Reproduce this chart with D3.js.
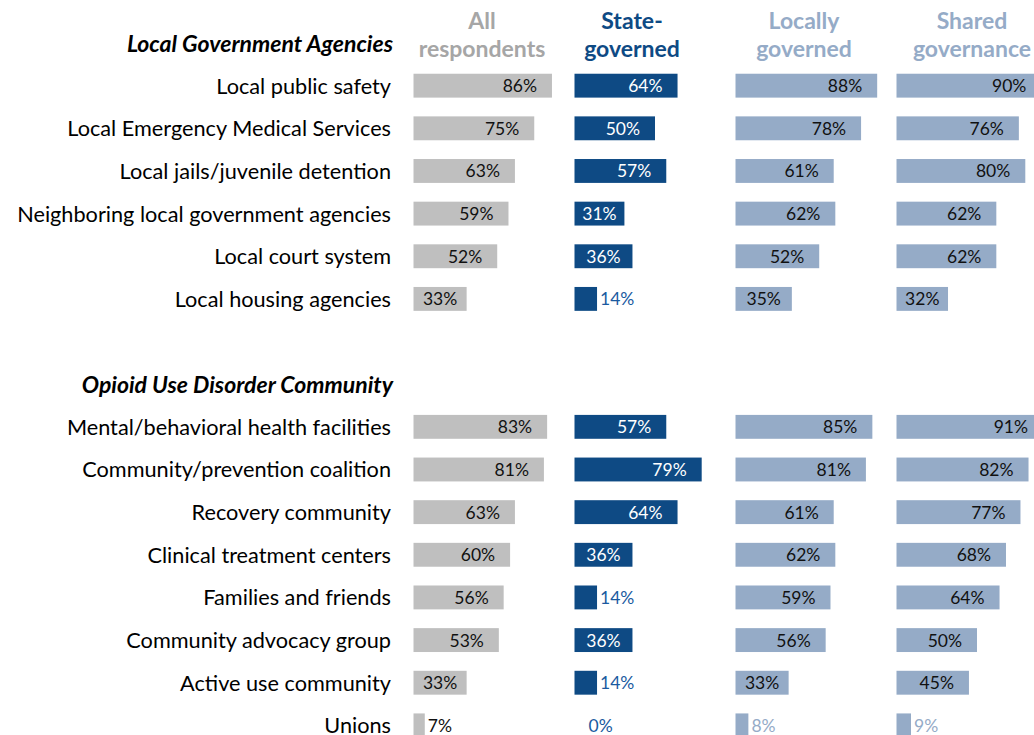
<!DOCTYPE html>
<html>
<head>
<meta charset="utf-8">
<script src="https://cdn.jsdelivr.net/npm/d3@7"></script>
<style>
  html, body { margin: 0; padding: 0; background: #fff; }
  svg { display: block; font-family: Lato, "Open Sans", sans-serif; }
</style>
</head>
<body>
<svg id="chart" width="1034" height="735"></svg>
<script>
// ---------- data ----------
const groupTitles = ["Local Government Agencies", "Opioid Use Disorder Community"];
const categoriesLocalGov = [
  "Local public safety",
  "Local Emergency Medical Services",
  "Local jails/juvenile detention",
  "Neighboring local government agencies",
  "Local court system",
  "Local housing agencies"
];
const categoriesOUD = [
  "Mental/behavioral health facilities",
  "Community/prevention coalition",
  "Recovery community",
  "Clinical treatment centers",
  "Families and friends",
  "Community advocacy group",
  "Active use community",
  "Unions"
];
const seriesNames = [["All", "respondents"], ["State-", "governed"], ["Locally", "governed"], ["Shared", "governance"]];
const allRespondents = [86, 75, 63, 59, 52, 33, 83, 81, 63, 60, 56, 53, 33, 7];
const stateGoverned  = [64, 50, 57, 31, 36, 14, 57, 79, 64, 36, 14, 36, 14, 0];
const locallyGoverned = [88, 78, 61, 62, 52, 35, 85, 81, 61, 62, 59, 56, 33, 8];
const sharedGovernance = [90, 76, 80, 62, 62, 32, 91, 82, 77, 68, 64, 50, 45, 9];

// ---------- layout / style ----------
const svg = d3.select("#chart");
const seriesValues = [allRespondents, stateGoverned, locallyGoverned, sharedGovernance];
const barColors = ["#bfbfbf", "#0e4a84", "#95abc7", "#95abc7"];
const headerColors = ["#a6a6a6", "#0e4a84", "#95abc7", "#95abc7"];
const insideLabelColors = ["#111", "#fff", "#111", "#111"];
const outsideLabelColors = ["#111", "#1a5aa0", "#95abc7", "#95abc7"];
const panelX0 = 413.5, panelStep = 161;
const headerOffsets = [68.5, 57.5, 68.5, 75.5];
const labelRight = 391;

// slot layout: header, 6 rows, blank, header, 8 rows
const allCats = categoriesLocalGov.concat(categoriesOUD);
const slots = ["h0"].concat(categoriesLocalGov, ["blank", "h1"], categoriesOUD);
const y = d3.scaleBand().domain(slots).range([21.7, 746.7]).paddingInner(0.44).paddingOuter(0.22);
const x = d3.scaleLinear().domain([0, 100]).range([0, 161]);

// group titles
svg.selectAll("text.group").data(groupTitles).join("text")
  .attr("class", "group")
  .attr("x", labelRight + 2)
  .attr("y", (d, i) => y("h" + i) + y.bandwidth() / 2)
  .attr("text-anchor", "end")
  .attr("dominant-baseline", "central")
  .style("font-size", "23px").style("font-weight", "bold").style("font-style", "italic")
  .attr("fill", "#000")
  .text(d => d);

// category labels
svg.selectAll("text.cat").data(allCats).join("text")
  .attr("class", "cat")
  .attr("x", labelRight)
  .attr("y", d => y(d) + y.bandwidth() / 2)
  .attr("text-anchor", "end")
  .attr("dominant-baseline", "central")
  .style("font-size", "21.7px")
  .attr("fill", "#000")
  .text(d => d);

// panels
seriesValues.forEach((vals, s) => {
  const x0 = panelX0 + s * panelStep;
  const g = svg.append("g").attr("transform", `translate(${x0},0)`);
  // header
  const ht = g.append("text")
    .attr("text-anchor", "middle")
    .style("font-size", "23px").style("font-weight", "bold")
    .attr("fill", headerColors[s]);
  seriesNames[s].forEach((line, i) => {
    ht.append("tspan").attr("x", headerOffsets[s]).attr("y", 29 + i * 28).text(line);
  });

  const data = allCats.map((c, i) => ({ c, v: vals[i] }));
  g.selectAll("rect").data(data).join("rect")
    .attr("x", 0)
    .attr("y", d => y(d.c))
    .attr("width", d => x(d.v))
    .attr("height", y.bandwidth())
    .attr("fill", barColors[s]);

  g.selectAll("text.val").data(data).join("text")
    .attr("class", "val")
    .attr("y", d => y(d.c) + y.bandwidth() / 2)
    .attr("dominant-baseline", "central")
    .style("font-size", "17.5px")
    .text(d => d.v + "%")
    .each(function (d) {
      const t = d3.select(this);
      const tw = this.getComputedTextLength();
      const w = x(d.v);
      if (d.v >= 20) {
        const pad = Math.min(15, (w - tw) / 2);
        t.attr("text-anchor", "end").attr("x", w - pad).attr("fill", insideLabelColors[s]);
      } else {
        t.attr("text-anchor", "start").attr("x", Math.max(w + 3, 14)).attr("fill", outsideLabelColors[s]);
      }
    });
});
</script>
</body>
</html>
